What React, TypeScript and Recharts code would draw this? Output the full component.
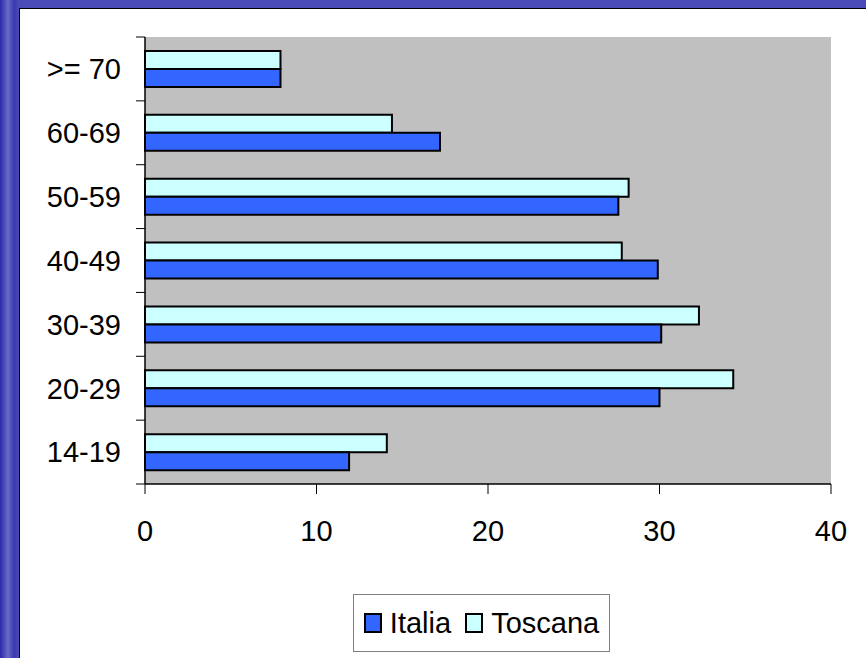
import React from 'react';
import { BarChart, Bar, XAxis, YAxis, CartesianGrid, Legend } from 'recharts';

const categories = ['>= 70', '60-69', '50-59', '40-49', '30-39', '20-29', '14-19'];
const italia = [7.9, 17.2, 27.6, 29.9, 30.1, 30.0, 11.9];
const toscana = [7.9, 14.4, 28.2, 27.8, 32.3, 34.3, 14.1];
const xTicks = [0, 10, 20, 30, 40];

const data = categories.map((cat, i) => ({ cat, Italia: italia[i], Toscana: toscana[i] }));

const W = 866;
const H = 658;
const MARGIN = { top: 37, right: 35, left: 0, bottom: 114 };
const XAXIS_H = 60;
const YAXIS_W = 145;
const PLOT_H = H - MARGIN.top - MARGIN.bottom - XAXIS_H;
const BAND = PLOT_H / categories.length;
const FONT = '"Liberation Sans", Arial, sans-serif';
const FS = 29;
const ITALIA_C = '#3366FF';
const TOSCANA_C = '#CCFFFF';

const YTick = (props: any) => {
  const { x, y, payload, index } = props;
  const half = BAND / 2;
  const ax = YAXIS_W;
  return (
    <g>
      <line x1={ax - 9} x2={ax} y1={y - half} y2={y - half} stroke="#000" strokeWidth={1} />
      {index === categories.length - 1 && (
        <line x1={ax - 9} x2={ax} y1={y + half} y2={y + half} stroke="#000" strokeWidth={1} />
      )}
      <text x={x} y={y} dy="0.355em" textAnchor="end" fill="#000" fontSize={FS} fontFamily={FONT}>
        {payload.value}
      </text>
    </g>
  );
};

const Swatch = ({ color }: { color: string }) => (
  <span
    style={{
      display: 'inline-block',
      width: 14,
      height: 16,
      background: color,
      border: '2px solid #000',
      marginRight: 8,
    }}
  />
);

const LegendBox = () => (
  <div
    style={{
      boxSizing: 'border-box',
      width: 257,
      height: 58,
      border: '1px solid #808080',
      background: '#fff',
      display: 'flex',
      alignItems: 'center',
      justifyContent: 'center',
      fontFamily: FONT,
      fontSize: FS,
      color: '#000',
    }}
  >
    <span style={{ display: 'flex', alignItems: 'center', marginRight: 14 }}>
      <Swatch color={ITALIA_C} />
      Italia
    </span>
    <span style={{ display: 'flex', alignItems: 'center' }}>
      <Swatch color={TOSCANA_C} />
      Toscana
    </span>
  </div>
);

export default function App() {
  return (
    <div style={{ position: 'fixed', left: 0, top: 0, width: W, height: H, overflow: 'hidden' }}>
      <div
        style={{
          position: 'absolute',
          inset: 0,
          background:
            'linear-gradient(90deg, #2a2aa8 0px, #6a6ac8 8px, #3a3ab0 14px, #4a4ab8 19px, #4a4ab8 100%)',
        }}
      />
      <div
        style={{
          position: 'absolute',
          left: 19,
          top: 8,
          right: 0,
          bottom: 0,
          background: '#fff',
          borderLeft: '1px solid #000',
          borderTop: '1px solid #000',
        }}
      />
      <div style={{ position: 'absolute', left: 0, top: 0 }}>
        <BarChart
          width={W}
          height={H}
          data={data}
          layout="vertical"
          margin={MARGIN}
          barSize={18}
          barGap={0}
        >
          <CartesianGrid fill="#C0C0C0" horizontal={false} vertical={false} />
          <XAxis
            type="number"
            domain={[0, 40]}
            ticks={xTicks}
            interval={0}
            height={XAXIS_H}
            tickSize={10}
            tickMargin={26}
            axisLine={{ stroke: '#000', strokeWidth: 1.5 }}
            tickLine={{ stroke: '#000' }}
            tick={{ fill: '#000', fontSize: FS, fontFamily: FONT }}
          />
          <XAxis
            xAxisId="top"
            orientation="top"
            type="number"
            domain={[0, 40]}
            height={0}
            tick={false}
            tickLine={false}
            axisLine={{ stroke: '#808080', strokeWidth: 2 }}
          />
          <YAxis
            type="category"
            dataKey="cat"
            width={YAXIS_W}
            interval={0}
            tickSize={9}
            tickMargin={15}
            tickLine={false}
            axisLine={{ stroke: '#000', strokeWidth: 1.5 }}
            tick={<YTick />}
          />
          <YAxis
            yAxisId="right"
            orientation="right"
            type="category"
            dataKey="cat"
            width={0}
            tick={false}
            tickLine={false}
            axisLine={{ stroke: '#808080', strokeWidth: 2 }}
          />
          <Legend
            layout="horizontal"
            verticalAlign="middle"
            align="center"
            content={() => <LegendBox />}
            wrapperStyle={{ left: 353, top: 594, width: 257, height: 58 }}
          />
          <Bar dataKey="Toscana" fill={TOSCANA_C} stroke="#000" strokeWidth={2} isAnimationActive={false} />
          <Bar dataKey="Italia" fill={ITALIA_C} stroke="#000" strokeWidth={2} isAnimationActive={false} />
        </BarChart>
      </div>
    </div>
  );
}
